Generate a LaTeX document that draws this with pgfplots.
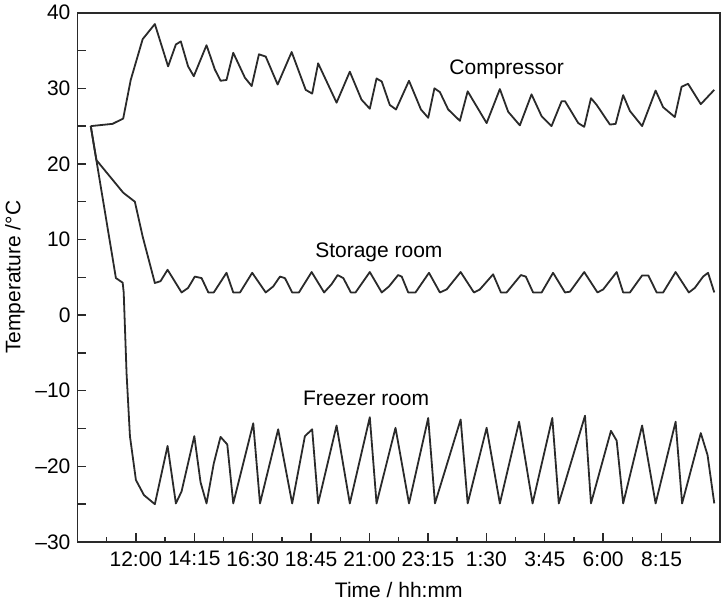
\documentclass[border=0pt]{standalone}
\usepackage{fontspec}
\setmainfont{Liberation Sans}
\usepackage{pgfplots}
\pgfplotsset{compat=1.18}
\definecolor{ink}{HTML}{2A2A2A}
\tikzset{pl/.style={draw=ink, line width=0.9pt, mark=none, line join=round}}
\begin{document}
\begin{tikzpicture}
\begin{axis}[
  scale only axis, width=321.25pt, height=264.65pt,
  xmin=9.75, xmax=34.5, ymin=-30, ymax=40,
  axis line style={draw=ink, line width=0.9pt},
  tick style={draw=ink, line width=0.7pt},
  tick align=inside,
  xtick pos=bottom, ytick pos=left,
  major tick length=4.5pt, minor tick length=2.6pt,
  xtick={12,14.25,16.5,18.75,21,23.25,25.5,27.75,30,32.25},
  xticklabels={12:00,14:15,16:30,18:45,21:00,23:15,1:30,3:45,6:00,8:15},
  minor xtick={10.875,13.125,15.375,17.625,19.875,22.125,24.375,26.625,28.875,31.125,33.375},
  ytick={-30,-25,-20,-15,-10,-5,0,5,10,15,20,25,30,35,40},
  yticklabels={\textendash30,{},\textendash20,{},\textendash10,{},0,{},10,{},20,{},30,{},40},
  ticklabel style={font=\fontsize{10.5}{12}\selectfont, text=black},
  xticklabel style={yshift=-1.2pt},
  xlabel={Time / hh:mm}, ylabel={Temperature /°C},
  label style={font=\fontsize{10.5}{12}\selectfont},
  xlabel style={at={(axis description cs:0.5,-0.0907)}, anchor=center},
  ylabel style={at={(axis description cs:-0.0973,0.5)}, anchor=center},
]
% Compressor
\addplot[pl] coordinates {
(10.26,25.0) (11.10,25.3) (11.51,26.0) (11.80,31.1) (12.26,36.5) (12.73,38.5)
(13.24,32.9) (13.54,35.8) (13.73,36.2) (14.01,32.9) (14.23,31.6) (14.72,35.7)
(15.04,32.5) (15.26,31.0) (15.49,31.1) (15.75,34.7) (16.20,31.4) (16.46,30.3)
(16.74,34.5) (17.00,34.2) (17.46,30.5) (18.00,34.8) (18.54,29.8) (18.79,29.3)
(19.02,33.3) (19.73,28.1) (20.24,32.2) (20.69,28.5) (21.01,27.3) (21.27,31.3)
(21.47,30.9) (21.78,27.8) (22.02,27.2) (22.52,31.0) (22.98,27.2) (23.26,26.1)
(23.50,30.0) (23.71,29.5) (24.03,27.2) (24.48,25.7) (24.78,29.6) (25.51,25.4)
(26.02,29.9) (26.34,26.9) (26.79,25.1) (27.24,29.2) (27.63,26.3) (28.01,25.0)
(28.40,28.3) (28.53,28.3) (29.04,25.4) (29.27,24.9) (29.53,28.7) (29.75,27.8)
(30.26,25.2) (30.48,25.3) (30.77,29.1) (31.03,27.0) (31.50,25.0) (32.02,29.7)
(32.31,27.5) (32.76,26.2) (33.02,30.2) (33.27,30.6) (33.76,27.9) (34.28,29.8)
};
% Storage room
\addplot[pl] coordinates {
(10.26,25.0) (10.48,20.5) (11.51,16.2) (11.96,15.0) (12.26,10.4) (12.73,4.25)
(12.95,4.5) (13.22,6.0) (13.76,3.0) (14.01,3.6) (14.27,5.1) (14.53,4.9)
(14.79,3.0) (15.00,3.0) (15.49,5.6) (15.75,3.0) (16.01,3.0) (16.48,5.6)
(17.00,3.0) (17.29,3.8) (17.55,5.1) (17.74,4.9) (18.02,3.0) (18.28,3.0)
(18.77,5.7) (19.25,3.0) (19.54,4.1) (19.77,5.3) (19.99,4.9) (20.28,3.0)
(20.46,3.0) (21.01,5.7) (21.47,3.0) (21.75,3.8) (22.10,5.3) (22.24,5.1)
(22.49,3.0) (22.77,3.0) (23.29,5.6) (23.71,3.0) (23.97,3.4) (24.51,5.7)
(25.02,3.0) (25.25,3.4) (25.76,5.4) (26.06,3.0) (26.28,3.0) (26.83,5.3)
(27.02,5.1) (27.30,3.0) (27.63,3.0) (28.07,5.6) (28.53,3.0) (28.72,3.1)
(29.27,5.7) (29.78,3.0) (30.00,3.4) (30.52,5.7) (30.77,3.0) (31.03,3.0)
(31.50,5.25) (31.74,5.25) (32.06,3.0) (32.31,3.0) (32.79,5.7) (33.30,3.0)
(33.53,3.6) (33.85,5.1) (34.04,5.6) (34.28,3.0)
};
% Freezer room
\addplot[pl] coordinates {
(10.26,25.0) (11.23,4.9) (11.49,4.3) (11.53,3.0) (11.64,-7.7) (11.77,-16.0)
(12.00,-21.8) (12.31,-23.8) (12.73,-25.0) (13.22,-17.3) (13.54,-24.9) (13.76,-23.3)
(14.25,-16.0) (14.49,-22.1) (14.72,-24.9) (15.00,-19.6) (15.26,-16.1) (15.52,-17.1)
(15.75,-24.9) (16.52,-14.3) (16.78,-24.9) (17.48,-15.1) (18.02,-24.9) (18.51,-16.0)
(18.79,-15.1) (19.02,-24.9) (19.73,-14.6) (20.24,-24.9) (21.01,-13.5) (21.27,-24.9)
(22.00,-14.9) (22.52,-24.9) (23.26,-13.6) (23.52,-24.9) (24.51,-13.8) (24.78,-24.9)
(25.51,-14.9) (26.02,-24.9) (26.76,-14.1) (27.28,-24.9) (28.04,-13.6) (28.29,-24.9)
(29.30,-13.3) (29.53,-24.9) (30.30,-15.3) (30.52,-16.6) (30.77,-24.9) (31.50,-14.6)
(32.02,-24.9) (32.79,-14.1) (33.04,-24.9) (33.76,-15.6) (34.02,-18.5) (34.28,-24.9)
};
\node[font=\fontsize{10.5}{12}\selectfont] at (axis cs:26.28,32.46) {Compressor};
\node[font=\fontsize{10.5}{12}\selectfont] at (axis cs:21.36,8.25) {Storage room};
\node[font=\fontsize{10.5}{12}\selectfont] at (axis cs:20.87,-10.97) {Freezer room};
\coordinate (bl) at (rel axis cs:0,0);
\coordinate (tr) at (rel axis cs:1,1);
\end{axis}
\pgfresetboundingbox
\path[use as bounding box] ([shift={(-38.75pt,-33.5pt)}]bl) rectangle ([shift={(0.5pt,6.35pt)}]tr);
\end{tikzpicture}
\end{document}
